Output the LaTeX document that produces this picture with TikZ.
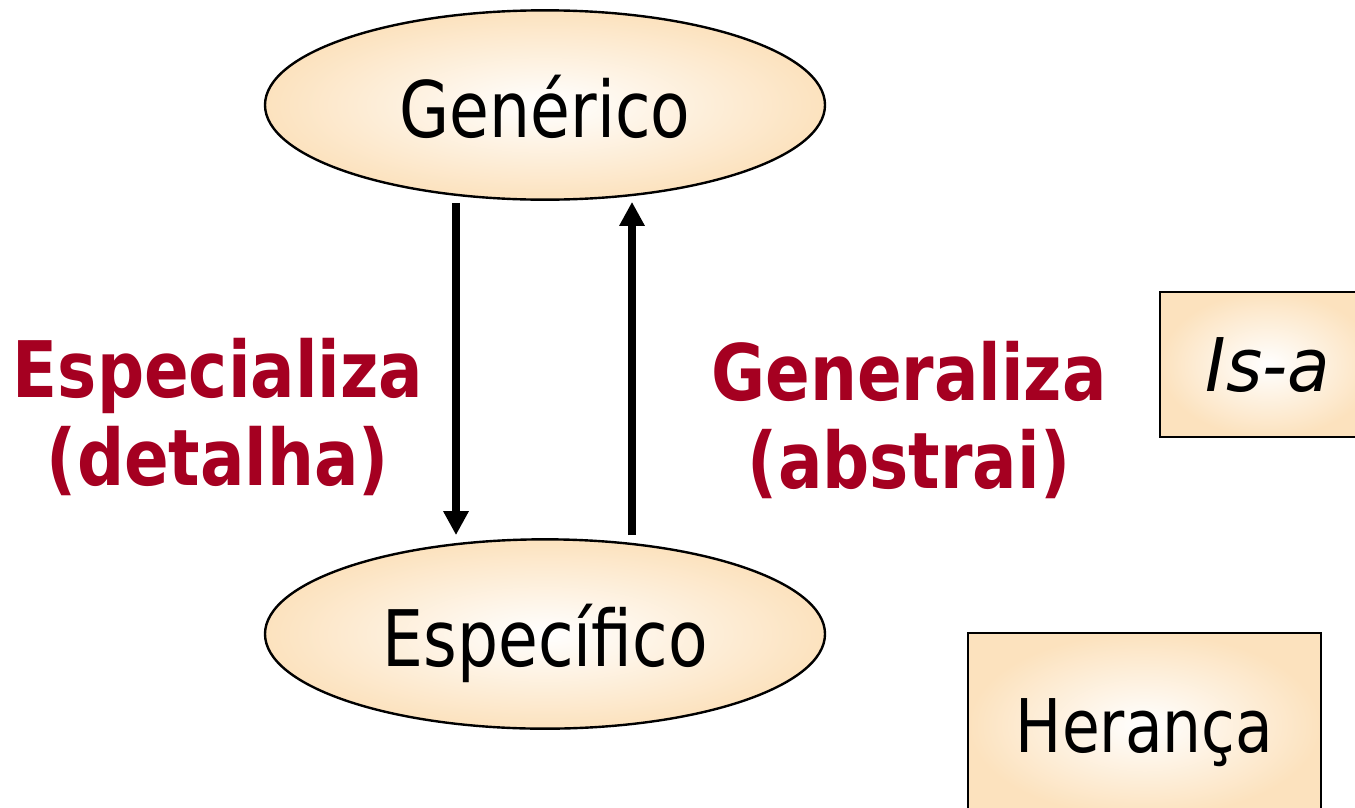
\documentclass[tikz,border=0pt]{standalone}
\usepackage{fontspec}
\usetikzlibrary{shapes.geometric,arrows.meta,calc}
\newfontfamily\tah[FakeStretch=0.83]{DejaVu Sans}
\newfontfamily\tahb[FakeStretch=0.845]{DejaVu Sans Bold}
\newfontfamily\tahi[FakeStretch=0.94]{DejaVu Sans Oblique}
\definecolor{peach}{RGB}{252,226,190}
\definecolor{dred}{RGB}{165,0,33}
\tikzset{
  blob/.style={ellipse, draw=black, line width=1.8pt, inner color=white, outer color=peach,
    minimum width=420pt, minimum height=142pt, inner sep=0pt, text height=48pt, text depth=0pt,
    font=\tah\fontsize{58.5}{70}\selectfont},
  tagbox/.style={rectangle, draw=black, line width=1.6pt, inner color=white, outer color=peach,
    inner sep=0pt, text height=41pt, text depth=0pt},
  lbl/.style={text=dred, align=center, anchor=base, font=\tahb\fontsize{58.5}{66}\selectfont},
  arr/.style={line width=6pt, -{Triangle[length=18pt,width=18pt]}}
}
\begin{document}
\begin{tikzpicture}[x=0.75pt,y=-0.75pt]
\useasboundingbox (0,0) rectangle (1355,807);
\clip (0,0) rectangle (1355,807);
\node[blob] (gen) at (545,105) {Genérico};
\node[blob] (esp) at (545,634) {Específico};
\node[tagbox, minimum width=162pt, minimum height=108.75pt, font=\tahi\fontsize{55.5}{67}\selectfont] (isa) at (1268,364.5) {Is-a};
\node[tagbox, minimum width=264.75pt, minimum height=138pt, font=\tah\fontsize{55.5}{67}\selectfont] (her) at (1144.5,725) {Herança};
\draw[arr] ($(gen.south)+(-89,2)$) -- ($(esp.north)+(-89,-3)$);
\draw[arr] ($(esp.north)+(87,-3)$) -- ($(gen.south)+(87,1)$);
\node[lbl] (spec) at (218,485) {Especializa\\(detalha)};
\node[lbl] (genl) at (909,488) {Generaliza\\(abstrai)};
\end{tikzpicture}
\end{document}
